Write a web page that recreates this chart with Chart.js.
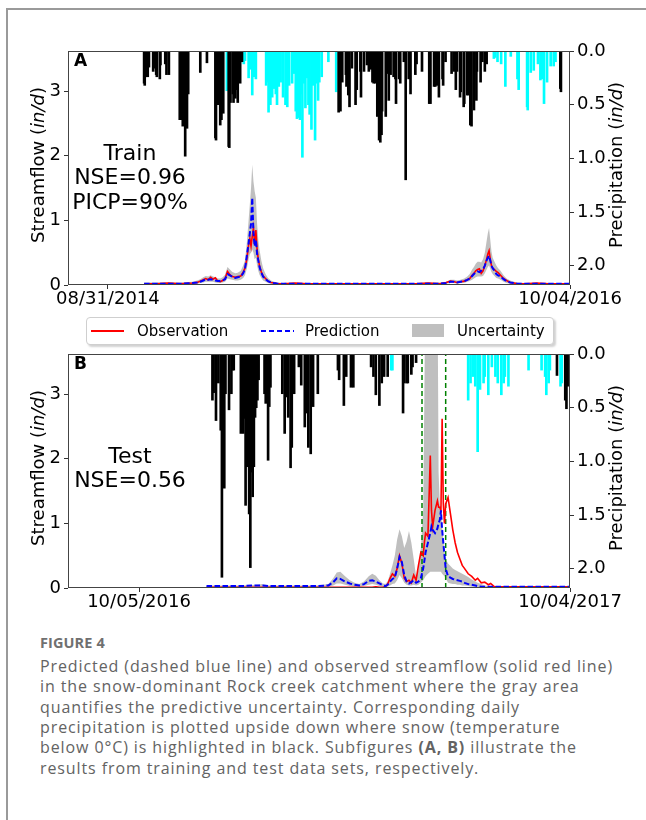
<!DOCTYPE html>
<html>
<head>
<meta charset="utf-8">
<title>Figure 4</title>
<script src="https://cdn.jsdelivr.net/npm/chart.js@4.4.1/dist/chart.umd.min.js"></script>
<style>
  html, body { margin: 0; padding: 0; background: #fff; }
  body { position: relative; width: 646px; height: 820px; overflow: hidden; }
  .frame { position: absolute; left: 6px; top: 8px; width: 700px; height: 900px; border-left: 2px solid #9a9a9a; border-top: 2px solid #9a9a9a; }
  canvas { position: absolute; left: 0; }
  #trainChart { top: 30px; }
  #testChart { top: 333px; }
  .legend { position: absolute; left: 86px; top: 317px; width: 466px; height: 26px; border: 1px solid #cfcfcf; border-radius: 4px; background: #fff; box-shadow: 2px 2px 2px rgba(0,0,0,0.18); font: 15px "DejaVu Sans"; color: #000; z-index: 2; }
  .legend span { position: absolute; }
  .legend .txt { top: 4px; line-height: 18px; white-space: nowrap; }
  .legend .obs { left: 4px; top: 12px; width: 33px; height: 2px; background: #ff0000; }
  .legend .pred { left: 174px; top: 12px; width: 33px; height: 2px; background: repeating-linear-gradient(to right, #0000ff 0 5.5px, transparent 5.5px 8px); }
  .legend .unc { left: 325px; top: 6px; width: 32px; height: 13px; background: #bfbfbf; }
  .caption { position: absolute; left: 40px; top: 633px; font-family: "Open Sans", Lato, sans-serif; color: #636363; }
  .caption .fig { font-size: 14.5px; font-weight: 700; line-height: 20px; color: #707070; letter-spacing: 0.1px; }
  .caption p { margin: 2.8px 0 0; font-size: 16px; line-height: 20.4px; letter-spacing: 0.9px; white-space: nowrap; }
</style>
</head>
<body>
<div class="frame"></div>
<canvas id="trainChart" width="646" height="283"></canvas>
<canvas id="testChart" width="646" height="283"></canvas>
<div class="legend">
  <span class="obs"></span><span class="txt" style="left:50px">Observation</span>
  <span class="pred"></span><span class="txt" style="left:218px">Prediction</span>
  <span class="unc"></span><span class="txt" style="left:370px">Uncertainty</span>
</div>
<div class="caption">
  <div class="fig">FIGURE 4</div>
  <p>Predicted (dashed blue line) and observed streamflow (solid red line)<br>in the snow-dominant Rock creek catchment where the gray area<br>quantifies the predictive uncertainty. Corresponding daily<br>precipitation is plotted upside down where snow (temperature<br>below 0°C) is highlighted in black. Subfigures <b>(A, B)</b> illustrate the<br>results from training and test data sets, respectively.</p>
</div>
<script>
// days counted from the first tick date of each panel
const trainRange = [-66, 765];
const trainTicks = [0, 765];
const trainTickLabels = ['08/31/2014', '10/04/2016'];
const testRange = [-60, 364];
const testTicks = [0, 364];
const testTickLabels = ['10/05/2016', '10/04/2017'];
const flowTicks = [0, 1, 2, 3];
const flowMax = 3.62;
const precipTicks = [0, 0.5, 1.0, 1.5, 2.0];
const precipMax = 2.18;

// training period streamflow (in/d)
const trainDays  = [60, 80, 100, 120, 140, 148, 153, 158, 162, 166, 170, 174, 178, 182, 186, 190, 194, 198, 202, 206, 211, 215, 220, 224, 227, 230, 233, 235, 237, 239, 241, 243, 245, 247, 249, 251, 254, 257, 261, 265, 270, 275, 281, 290, 310, 330, 350, 370, 390, 410, 430, 450, 470, 490, 510, 530, 550, 560, 567, 573, 578, 584, 590, 595, 599, 603, 606, 609, 612, 615, 618, 621, 624, 627, 629, 631, 633, 635, 637, 640, 643, 646, 650, 655, 660, 666, 672, 678, 690, 710, 730, 750, 765];
const trainObs   = [.02, .02, .03, .02, .03, .04, .06, .08, .10, .08, .12, .09, .11, .06, .05, .07, .10, .21, .16, .13, .12, .13, .14, .20, .26, .40, .62, .72, .60, .75, .88, .62, .85, .55, .40, .30, .20, .14, .10, .06, .04, .03, .02, .02, .03, .02, .02, .02, .02, .02, .02, .02, .02, .02, .02, .03, .02, .04, .06, .05, .04, .05, .06, .08, .10, .15, .18, .22, .24, .25, .18, .22, .30, .40, .48, .53, .40, .30, .26, .24, .21, .19, .15, .10, .07, .04, .03, .02, .02, .03, .02, .02, .02];
const trainPred  = [.02, .02, .02, .02, .03, .04, .05, .07, .09, .08, .09, .08, .07, .06, .06, .07, .09, .17, .15, .13, .11, .12, .13, .18, .25, .45, .65, .80, .95, 1.35, .80, .60, .70, .48, .38, .28, .19, .13, .09, .06, .04, .03, .02, .02, .02, .02, .02, .02, .02, .02, .02, .02, .02, .02, .02, .02, .02, .03, .05, .05, .04, .05, .06, .08, .10, .14, .17, .20, .21, .20, .22, .24, .30, .38, .42, .45, .38, .30, .26, .22, .17, .15, .13, .09, .06, .04, .03, .02, .02, .02, .02, .02, .02];
const trainLower = [.01, .01, .01, .01, .01, .02, .03, .04, .05, .05, .05, .05, .04, .03, .03, .04, .05, .10, .09, .08, .07, .07, .08, .11, .15, .25, .40, .48, .50, .55, .50, .40, .42, .30, .22, .16, .11, .07, .05, .03, .02, .01, .01, .01, .01, .01, .01, .01, .01, .01, .01, .01, .01, .01, .01, .01, .01, .02, .03, .03, .02, .03, .03, .05, .06, .08, .10, .12, .13, .13, .13, .14, .18, .24, .28, .30, .25, .20, .17, .14, .11, .10, .08, .05, .03, .02, .01, .01, .01, .01, .01, .01, .01];
const trainUpper = [.04, .04, .04, .04, .05, .07, .09, .12, .14, .13, .15, .13, .12, .10, .10, .12, .16, .28, .24, .20, .18, .19, .22, .30, .38, .65, 1.00, 1.25, 1.50, 1.86, 1.60, 1.45, 1.35, .95, .70, .55, .38, .26, .17, .11, .07, .05, .04, .03, .03, .03, .03, .03, .03, .03, .03, .03, .03, .03, .03, .04, .04, .05, .08, .08, .07, .08, .10, .13, .17, .24, .28, .33, .36, .36, .35, .40, .50, .68, .80, .88, .70, .52, .42, .36, .30, .26, .22, .15, .10, .07, .05, .04, .03, .03, .03, .03, .03];

// training period daily precipitation (in/d): snow in black, rain in cyan
const trainSnowDays  = [60, 61, 63, 66, 68, 75, 76, 80, 81, 86, 87, 95, 97, 101, 119, 120, 122, 124, 126, 128, 129, 131, 133, 153, 164, 178, 179, 182, 184, 186, 188, 189, 191, 200, 201, 203, 207, 208, 211, 213, 215, 219, 222, 382, 385, 388, 394, 395, 398, 400, 404, 410, 412, 418, 419, 424, 429, 432, 436, 438, 440, 443, 446, 449, 451, 453, 454, 460, 463, 465, 468, 473, 476, 477, 482, 484, 490, 493, 498, 501, 509, 511, 520, 532, 534, 540, 542, 545, 548, 554, 555, 559, 569, 573, 576, 578, 583, 584, 589, 590, 595, 596, 600, 602, 606, 610, 611, 617, 620, 624, 627, 749, 750];
const trainSnowDepth = [.30, .32, .24, .24, .15, .19, .16, .22, .24, .26, .13, .12, .22, .22, .64, .41, .64, .70, .62, .98, .70, .72, .40, .20, .11, .81, .83, .50, .36, .69, .64, .20, .58, .89, .90, .48, .40, .48, .44, .36, .48, .30, .10, .57, .56, .29, .22, .33, .41, .52, .16, .50, .36, .19, .43, .19, .13, .19, .17, .29, .30, .30, .61, .83, .85, .78, .56, .61, .21, .46, .22, .24, .26, .49, .26, .30, .10, 1.20, .26, .40, .22, .12, .19, .49, .49, .33, .33, .32, .43, .26, .32, .10, .21, .19, .36, .19, .43, .38, .52, .49, .41, .41, .69, .70, .55, .46, .19, .29, .10, .19, .12, .35, .38];
const trainRainDays  = [197, 221, 225, 227, 233, 235, 239, 242, 245, 262, 264, 266, 269, 272, 275, 278, 280, 283, 286, 290, 294, 297, 300, 305, 308, 311, 313, 315, 318, 320, 322, 325, 327, 330, 332, 334, 337, 340, 343, 345, 348, 350, 354, 365, 378, 639, 641, 645, 651, 658, 667, 678, 680, 694, 695, 700, 705, 712, 716, 719, 722, 727, 733, 738, 741];
const trainRainDepth = [.37, .08, .12, .09, .25, .17, .41, .24, .26, .32, .29, .57, .50, .43, .35, .40, .50, .33, .29, .43, .50, .52, .32, .30, .21, .56, .63, .62, .64, .40, .99, .30, .53, .25, .50, .59, .73, .32, .83, .30, .46, .29, .24, .10, .38, .07, .06, .10, .12, .33, .05, .26, .36, .52, .55, .20, .18, .12, .27, .26, .49, .29, .14, .14, .10];

// test period streamflow (in/d)
const testDays  = [57, 70, 85, 100, 104, 110, 130, 150, 160, 164, 167, 170, 174, 178, 182, 186, 190, 194, 197, 200, 203, 206, 208, 210, 212, 214, 216, 218, 220, 222, 224, 226, 228, 230, 232, 234, 236, 238, 240, 241, 242, 244, 246, 247, 248, 250, 252, 253, 254, 255, 256, 257, 258, 259, 261, 263, 265, 267, 269, 271, 273, 275, 278, 281, 284, 286, 289, 292, 295, 297, 300, 310, 330, 350, 364];
const testObs   = [.01, .01, .01, .01, .01, .01, .01, .01, .01, .01, .01, .01, .01, .01, .01, .01, .01, .01, .01, .02, .01, .01, .02, .06, .15, .22, .18, .30, .50, .38, .15, .10, .12, .08, .20, .12, .35, .55, .50, .70, .85, .80, 2.05, 1.20, .95, 1.20, 1.35, 1.25, 1.25, 1.20, 2.62, 1.30, 1.00, 1.30, 1.40, 1.15, .90, .70, .55, .45, .35, .30, .22, .18, .12, .15, .08, .09, .05, .07, .02, .02, .02, .02, .02];
const testPred  = [.03, .03, .03, .04, .04, .03, .03, .03, .04, .09, .15, .14, .10, .07, .05, .04, .06, .11, .12, .10, .07, .04, .03, .05, .10, .14, .16, .30, .48, .40, .20, .10, .07, .09, .12, .08, .10, .15, .30, .42, .55, .70, .85, .95, .90, .85, .92, 1.00, 1.05, 1.20, .90, .70, .50, .30, .18, .16, .14, .13, .12, .11, .10, .08, .06, .05, .04, .03, .02, .02, .02, .02, .02, .02, .02, .02, .02];
const testLower = [.01, .01, .01, .02, .02, .01, .01, .01, .02, .04, .07, .07, .05, .03, .02, .02, .03, .05, .06, .05, .03, .02, .01, .02, .04, .06, .07, .12, .20, .15, .08, .05, .04, .04, .05, .04, .05, .08, .12, .15, .18, .22, .25, .25, .25, .25, .25, .25, .25, .25, .22, .20, .18, .15, .08, .07, .06, .06, .05, .05, .04, .04, .03, .02, .02, .01, .01, .01, .01, .01, .01, .01, .01, .01, .01];
const testUpper = [.04, .04, .04, .05, .06, .04, .04, .04, .06, .15, .24, .25, .18, .12, .08, .06, .10, .18, .22, .19, .12, .07, .06, .10, .22, .35, .50, .75, .91, .80, .62, .72, .88, .70, .45, .18, .28, .60, 1.20, 3.00, 5.00, 5.00, 5.00, 5.00, 5.00, 5.00, 5.00, 1.80, 1.30, 1.25, .95, .75, .55, .45, .38, .34, .30, .28, .26, .24, .22, .20, .17, .13, .10, .08, .06, .04, .03, .03, .03, .03, .03, .03, .03];
const testWindow = [239, 259];

// test period daily precipitation (in/d)
const testSnowDays  = [62, 63, 65, 67, 69, 70, 72, 73, 76, 78, 79, 80, 86, 87, 88, 89, 90, 91, 92, 93, 94, 95, 96, 97, 98, 99, 100, 101, 106, 107, 109, 110, 111, 121, 123, 124, 126, 128, 129, 131, 135, 137, 140, 141, 143, 145, 147, 151, 168, 169, 173, 175, 179, 181, 196, 198, 200, 203, 205, 207, 210, 223, 224, 226, 227, 230, 231, 234, 353, 360, 361, 362];
const testSnowDepth = [.43, .36, .62, .27, .71, 2.08, 1.25, .37, .52, .37, .15, .15, .74, .40, .74, .60, 1.41, 1.05, .95, 1.49, 1.99, 1.10, 1.33, 1.05, .59, .50, .43, .24, .37, .46, .99, .49, .31, .37, .74, .40, .59, 1.06, .87, .37, .12, .29, .68, .55, .87, .93, .49, .37, .15, .24, .48, .21, .31, .31, .12, .21, .38, .48, .27, .21, .21, .55, .27, .27, .27, .19, .12, .08, .20, .43, .51, .30];
const testRainDays  = [213, 214, 278, 280, 282, 284, 286, 288, 291, 292, 295, 298, 301, 303, 306, 308, 309, 312, 329, 340, 343, 344, 346, 347, 356, 357, 364];
const testRainDepth = [.15, .15, .43, .27, .21, .30, .91, .33, .27, .21, .38, .12, .21, .27, .38, .27, .21, .30, .15, .15, .21, .38, .27, .15, .30, .27, .10];

const flowTitle = [['Streamflow (', ''], ['in/d', 'italic '], [')', '']];
const precipTitle = [['Precipitation (', ''], ['in/d', 'italic '], [')', '']];
const FONT = '"DejaVu Sans"';

function zip(xs, ys) {
  return xs.map((x, i) => ({ x, y: ys[i] }));
}

function drawTitle(ctx, parts, x, y) {
  const size = 18;
  let total = 0;
  parts.forEach(([t, style]) => {
    ctx.font = `${style}${size}px ${FONT}`;
    total += ctx.measureText(t).width;
  });
  ctx.save();
  ctx.translate(x, y);
  ctx.rotate(-Math.PI / 2);
  ctx.textBaseline = 'middle';
  ctx.textAlign = 'left';
  let pos = -total / 2;
  parts.forEach(([t, style]) => {
    ctx.font = `${style}${size}px ${FONT}`;
    ctx.fillText(t, pos, 0);
    pos += ctx.measureText(t).width;
  });
  ctx.restore();
}

const panelText = {
  id: 'panelText',
  afterDraw(chart, args, opts) {
    const { ctx, chartArea: a } = chart;
    ctx.save();
    ctx.strokeStyle = '#444';
    ctx.lineWidth = 1;
    ctx.strokeRect(Math.round(a.left) + 0.5, Math.round(a.top) + 0.5, Math.round(a.right - a.left) - 1, Math.round(a.bottom - a.top) - 1);
    ctx.fillStyle = '#000';
    ctx.textBaseline = 'middle';
    ctx.textAlign = 'left';
    ctx.font = `bold 17px ${FONT}`;
    ctx.fillText(opts.letter, a.left + 6, a.top + 11);
    ctx.textAlign = 'center';
    ctx.font = `22px ${FONT}`;
    opts.lines.forEach((t, i) => ctx.fillText(t, a.left + 62, a.top + 103 + i * 24.5));
    const mid = (a.top + a.bottom) / 2 - 3;
    drawTitle(ctx, flowTitle, a.left - 29, mid);
    drawTitle(ctx, precipTitle, a.right + 47, mid);
    ctx.restore();
  }
};

function tickSetup(values) {
  return (scale) => { scale.ticks = values.map(v => ({ value: v })); };
}

function buildPanel(canvasId, p) {
  const tickFont = { family: 'DejaVu Sans', size: 18 };
  const grid = { display: true, offset: false, drawOnChartArea: false, drawTicks: true, tickLength: 4, color: '#333' };
  const datasets = [
    { type: 'line', data: zip(p.days, p.lower), borderColor: 'rgba(0,0,0,0)', borderWidth: 0, pointRadius: 0, fill: false, order: 9 },
    { type: 'line', data: zip(p.days, p.upper), borderColor: 'rgba(0,0,0,0)', borderWidth: 0, pointRadius: 0, fill: '-1', backgroundColor: 'rgba(128,128,128,0.5)', order: 8 },
    { type: 'line', data: zip(p.days, p.obs), borderColor: '#ff0000', borderWidth: 1.6, pointRadius: 0, tension: 0, fill: false, order: 4 },
    { type: 'line', data: zip(p.days, p.pred), borderColor: '#0000ff', borderWidth: 2, borderDash: [5.5, 2.5], pointRadius: 0, tension: 0, fill: false, order: 3 },
    { type: 'bar', data: zip(p.rainDays, p.rainDepth), yAxisID: 'yP', backgroundColor: '#00ffff', barThickness: 2, grouped: false, order: 2 },
    { type: 'bar', data: zip(p.snowDays, p.snowDepth), yAxisID: 'yP', backgroundColor: '#000000', barThickness: 2, grouped: false, order: 1 }
  ];
  (p.window || []).forEach(d => {
    datasets.push({ type: 'line', data: [{ x: d, y: 0 }, { x: d, y: flowMax }], borderColor: '#008000', borderWidth: 1.5, borderDash: [5, 3], pointRadius: 0, fill: false, order: 5 });
  });

  return new Chart(document.getElementById(canvasId), {
    type: 'line',
    data: { datasets },
    options: {
      responsive: false,
      animation: false,
      events: [],
      layout: { padding: { top: 21, right: 0, bottom: 0, left: 0 } },
      plugins: {
        legend: { display: false },
        tooltip: { enabled: false },
        panelText: { letter: p.letter, lines: p.lines }
      },
      scales: {
        x: {
          type: 'linear', offset: false, min: p.range[0], max: p.range[1],
          afterBuildTicks: tickSetup(p.ticks),
          afterFit: (s) => { s.height = 28; },
          ticks: { autoSkip: false, maxRotation: 0, padding: 0, color: '#000', font: tickFont,
                   callback: (v) => p.tickLabels[p.ticks.indexOf(v)] },
          grid, border: { display: false }
        },
        y: {
          type: 'linear', position: 'left', min: 0, max: flowMax,
          afterBuildTicks: tickSetup(flowTicks),
          afterFit: (s) => { s.width = 68; },
          ticks: { color: '#000', font: tickFont, padding: 3, callback: (v) => String(v) },
          grid, border: { display: false }
        },
        yP: {
          type: 'linear', position: 'right', reverse: true, min: 0, max: precipMax,
          afterBuildTicks: tickSetup(precipTicks),
          afterFit: (s) => { s.width = 76; },
          ticks: { color: '#000', font: tickFont, padding: 3, callback: (v) => v.toFixed(1) },
          grid, border: { display: false }
        }
      }
    },
    plugins: [panelText]
  });
}

buildPanel('trainChart', {
  letter: 'A', lines: ['Train', 'NSE=0.96', 'PICP=90%'],
  range: trainRange, ticks: trainTicks, tickLabels: trainTickLabels,
  days: trainDays, obs: trainObs, pred: trainPred, lower: trainLower, upper: trainUpper,
  snowDays: trainSnowDays, snowDepth: trainSnowDepth, rainDays: trainRainDays, rainDepth: trainRainDepth
});

buildPanel('testChart', {
  letter: 'B', lines: ['Test', 'NSE=0.56'],
  range: testRange, ticks: testTicks, tickLabels: testTickLabels,
  days: testDays, obs: testObs, pred: testPred, lower: testLower, upper: testUpper,
  snowDays: testSnowDays, snowDepth: testSnowDepth, rainDays: testRainDays, rainDepth: testRainDepth,
  window: testWindow
});
</script>
</body>
</html>
